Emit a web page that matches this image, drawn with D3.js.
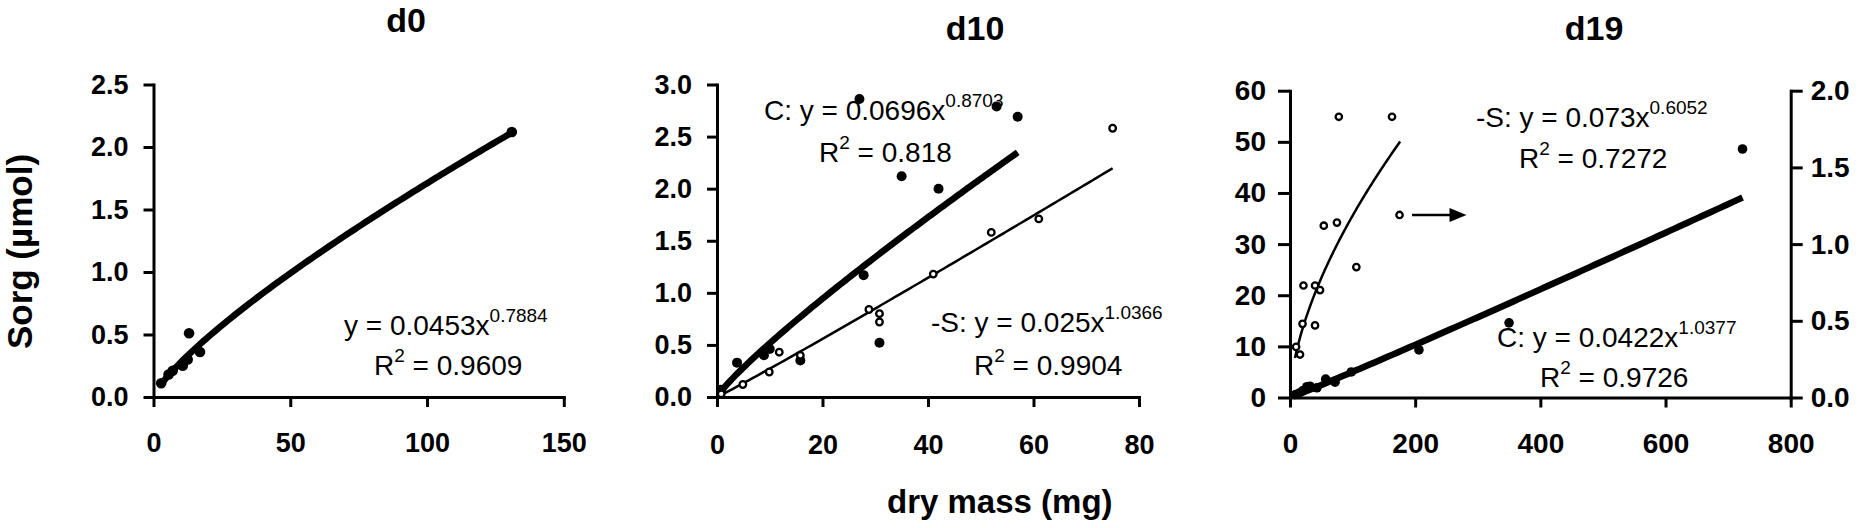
<!DOCTYPE html>
<html>
<head>
<meta charset="utf-8">
<script src="https://cdnjs.cloudflare.com/ajax/libs/d3/7.8.5/d3.min.js"></script>
<style>
body { margin: 0; background: #fff; }
svg text { font-family: "Liberation Sans", Arial, sans-serif; fill: #000; white-space: pre; }
</style>
</head>
<body>
<svg id="chart" width="1860" height="528"></svg>
<script>
// ---- data ----
// d0: control only (filled)
var d0_mass = [2.8, 5.5, 7, 10.7, 12.5, 13, 17, 131];
var d0_sorg = [0.11, 0.18, 0.21, 0.25, 0.30, 0.51, 0.36, 2.12];

// d10: C (filled) and -S (open)
var d10_c_mass = [0.8, 3.8, 8.9, 10, 15.8, 27.8, 30.8, 27, 35, 42, 53, 57];
var d10_c_sorg = [0.07, 0.33, 0.40, 0.46, 0.35, 1.17, 0.52, 2.86, 2.12, 2.0, 2.79, 2.69];
var d10_s_mass = [0.8, 4.9, 9.9, 11.8, 15.8, 28.8, 30.8, 30.8, 41, 52, 61, 75];
var d10_s_sorg = [0.03, 0.12, 0.24, 0.43, 0.40, 0.84, 0.80, 0.72, 1.18, 1.58, 1.71, 2.58];

// d19: C (filled, left axis) and -S (open, right axis)
var d19_c_mass = [9, 14, 20, 27, 32, 43, 57, 72, 98, 206, 350, 723];
var d19_c_sorg = [0.6, 0.8, 1.3, 2.1, 2.2, 1.9, 3.6, 3.0, 5.0, 9.3, 14.6, 48.6];
var d19_s_mass = [9.7, 16, 20, 21.5, 40, 40, 48, 54, 75, 78, 106, 163, 175];
var d19_s_sorg = [0.33, 0.28, 0.48, 0.73, 0.73, 0.47, 0.70, 1.12, 1.14, 1.83, 0.85, 1.83, 1.19];

// power-law trend lines y = a*x^b as printed on the figure, with their x range
var d0_fit = [0.0453, 0.7884], d0_fit_range = [2.8, 131];
var d10_c_fit = [0.0696, 0.8703], d10_c_fit_range = [0.8, 57];
var d10_s_fit = [0.025, 1.0366], d10_s_fit_range = [0.8, 75];
var d19_c_fit = [0.0422, 1.0377], d19_c_fit_range = [5, 723];
var d19_s_fit = [0.073, 0.6052], d19_s_fit_range = [8, 176];

var d0_r2 = "0.9609", d10_c_r2 = "0.818", d10_s_r2 = "0.9904", d19_s_r2 = "0.7272", d19_c_r2 = "0.9726";

// ticks
var d0_xticks = [0, 50, 100, 150];
var d0_yticks = [0, 0.5, 1, 1.5, 2, 2.5];
var d10_xticks = [0, 20, 40, 60, 80];
var d10_yticks = [0, 0.5, 1, 1.5, 2, 2.5, 3];
var d19_xticks = [0, 200, 400, 600, 800];
var d19_yticks = [0, 10, 20, 30, 40, 50, 60];
var d19_y2ticks = [0, 0.5, 1, 1.5, 2];

var titles = ["d0", "d10", "d19"];

// ---- drawing ----
var svg = d3.select("#chart");
svg.append("rect").attr("width", 1860).attr("height", 528).attr("fill", "#fff");

var layer_text = svg.append("g");
var layer_axes = svg.append("g");
var layer_lines = svg.append("g");
var layer_pts = svg.append("g");

function style_axis(g, fsize) {
    g.select(".domain").attr("stroke-width", 3).attr("stroke-linecap", "square");
    g.selectAll(".tick line").attr("stroke-width", 3);
    g.selectAll(".tick text")
    .attr("font-size", fsize)
    .attr("font-weight", "bold");
}

function fit_curve(fit, range, xs, ys) {
    var pts = d3.range(0, 101).map(function(i) {
        var x = range[0] + (range[1] - range[0]) * i / 100;
        return [xs(x), ys(fit[0] * Math.pow(x, fit[1]))];
    });
    return d3.line()(pts);
}

function eq_text(x, y, main, sup) {
    var t = layer_text.append("text").attr("x", x).attr("y", y).attr("font-size", 28);
    t.append("tspan").text(main);
    t.append("tspan").attr("font-size", 19).attr("dy", -13).text(sup);
}

function r2_text(x, y, val) {
    var t = layer_text.append("text").attr("x", x).attr("y", y).attr("font-size", 28);
    t.append("tspan").text("R");
    t.append("tspan").attr("font-size", 19).attr("dy", -13).text("2");
    t.append("tspan").attr("dy", 13).text(" = " + val);
}

function filled(xs, ys, mass, sorg, r) {
    layer_pts.append("g").selectAll("circle")
    .data(mass).enter().append("circle")
    .attr("cx", function(d) { return xs(d); })
    .attr("cy", function(d, i) { return ys(sorg[i]); })
    .attr("r", r)
    .attr("fill", "#000");
}

function open(xs, ys, mass, sorg, r) {
    layer_pts.append("g").selectAll("circle")
    .data(mass).enter().append("circle")
    .attr("cx", function(d) { return xs(d); })
    .attr("cy", function(d, i) { return ys(sorg[i]); })
    .attr("r", r)
    .attr("fill", "#fff")
    .attr("stroke", "#000")
    .attr("stroke-width", 2.3);
}

function trend(d, w) {
    layer_lines.append("path")
    .attr("d", d)
    .attr("fill", "none")
    .attr("stroke", "#000")
    .attr("stroke-width", w);
}

// panel d0
var x0 = d3.scaleLinear().domain([0, 150]).range([153.5, 563.8]);
var y0 = d3.scaleLinear().domain([0, 2.5]).range([397, 84.5]);

layer_axes.append("g").attr("transform", "translate(0," + y0(0) + ")")
.call(d3.axisBottom(x0).tickValues(d0_xticks).tickSize(10).tickSizeOuter(0).tickPadding(26))
.call(style_axis, 27);
layer_axes.append("g").attr("transform", "translate(" + x0(0) + ",0)")
.call(d3.axisLeft(y0).tickValues(d0_yticks).tickFormat(d3.format(".1f")).tickSize(10).tickSizeOuter(0).tickPadding(15))
.call(style_axis, 27);

eq_text(344, 335, "y = 0.0453x", d0_fit[1]);
r2_text(374, 375, d0_r2);
trend(fit_curve(d0_fit, d0_fit_range, x0, y0), 6.5);
filled(x0, y0, d0_mass, d0_sorg, 5.3);

// panel d10
var x1 = d3.scaleLinear().domain([0, 80]).range([717, 1139]);
var y1 = d3.scaleLinear().domain([0, 3]).range([397, 84.5]);

layer_axes.append("g").attr("transform", "translate(0," + y1(0) + ")")
.call(d3.axisBottom(x1).tickValues(d10_xticks).tickSize(10).tickSizeOuter(0).tickPadding(28))
.call(style_axis, 27);
layer_axes.append("g").attr("transform", "translate(" + x1(0) + ",0)")
.call(d3.axisLeft(y1).tickValues(d10_yticks).tickFormat(d3.format(".1f")).tickSize(10).tickSizeOuter(0).tickPadding(15))
.call(style_axis, 27);

eq_text(764, 120, "C: y = 0.0696x", d10_c_fit[1]);
r2_text(819, 162, d10_c_r2);
eq_text(931, 332, "-S: y = 0.025x", d10_s_fit[1]);
r2_text(974, 375, d10_s_r2);
trend(fit_curve(d10_c_fit, d10_c_fit_range, x1, y1), 6.5);
trend(fit_curve(d10_s_fit, d10_s_fit_range, x1, y1), 2.5);
filled(x1, y1, d10_c_mass, d10_c_sorg, 5);
open(x1, y1, d10_s_mass, d10_s_sorg, 3.3);

// panel d19
var x2 = d3.scaleLinear().domain([0, 800]).range([1290, 1790.7]);
var y2 = d3.scaleLinear().domain([0, 60]).range([397.5, 90.7]);
var y2r = d3.scaleLinear().domain([0, 2]).range([397.5, 90.7]);

layer_axes.append("g").attr("transform", "translate(0," + y2(0) + ")")
.call(d3.axisBottom(x2).tickValues(d19_xticks).tickSize(10).tickSizeOuter(0).tickPadding(26))
.call(style_axis, 28);
layer_axes.append("g").attr("transform", "translate(" + x2(0) + ",0)")
.call(d3.axisLeft(y2).tickValues(d19_yticks).tickSize(12).tickSizeOuter(0).tickPadding(12))
.call(style_axis, 28);
layer_axes.append("g").attr("transform", "translate(" + x2(800) + ",0)")
.call(d3.axisRight(y2r).tickValues(d19_y2ticks).tickFormat(d3.format(".1f")).tickSize(12).tickSizeOuter(0).tickPadding(8))
.call(style_axis, 28);

eq_text(1476, 127, "-S: y = 0.073x", d19_s_fit[1]);
r2_text(1519, 168, d19_s_r2);
eq_text(1497, 347, "C: y = 0.0422x", d19_c_fit[1]);
r2_text(1540, 387, d19_c_r2);
trend(fit_curve(d19_c_fit, d19_c_fit_range, x2, y2), 6.5);
trend(fit_curve(d19_s_fit, d19_s_fit_range, x2, y2r), 2.5);
filled(x2, y2, d19_c_mass, d19_c_sorg, 4.8);
open(x2, y2r, d19_s_mass, d19_s_sorg, 3.2);

// arrow: open symbols belong to the right axis
var ax0 = x2(195), ax1 = x2(282), ay = y2r(1.19);
layer_lines.append("line")
.attr("x1", ax0).attr("x2", ax1 - 14).attr("y1", ay).attr("y2", ay)
.attr("stroke", "#000").attr("stroke-width", 2.5);
layer_lines.append("path")
.attr("d", "M" + ax1 + "," + ay + "L" + (ax1 - 17) + "," + (ay - 7) + "L" + (ax1 - 17) + "," + (ay + 7) + "Z")
.attr("fill", "#000");

// titles
var title_x = [406, 975, 1594], title_y = [32, 40, 40];
layer_text.selectAll(".title").data(titles).enter().append("text")
.attr("class", "title")
.attr("x", function(d, i) { return title_x[i]; })
.attr("y", function(d, i) { return title_y[i]; })
.attr("text-anchor", "middle")
.attr("font-size", 34)
.attr("font-weight", "bold")
.text(function(d) { return d; });

// axis titles
layer_text.append("text")
.attr("transform", "translate(32,251.5) rotate(-90)")
.attr("text-anchor", "middle")
.attr("font-size", 35)
.attr("font-weight", "bold")
.text("Sorg (µmol)");

layer_text.append("text")
.attr("x", 887).attr("y", 513)
.attr("font-size", 33)
.attr("font-weight", "bold")
.text("dry mass (mg)");
</script>
</body>
</html>
